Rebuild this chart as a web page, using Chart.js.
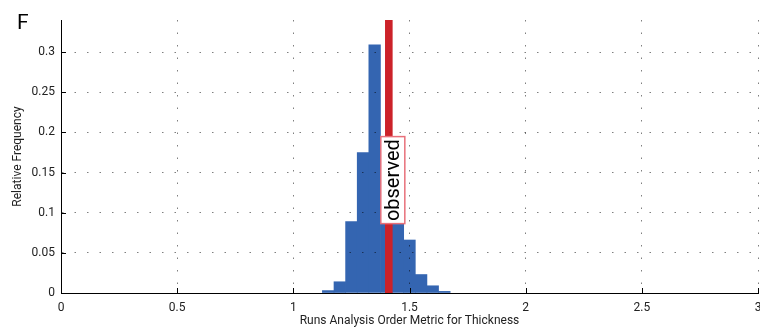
<!DOCTYPE html>
<html>
<head>
<meta charset="utf-8">
<script src="https://cdn.jsdelivr.net/npm/chart.js@4/dist/chart.umd.min.js"></script>
<style>
  html, body { margin: 0; padding: 0; background: #fff; }
  #wrap { width: 760px; height: 333px; position: relative; }
</style>
</head>
<body>
<div id="wrap"><canvas id="c" width="760" height="333"></canvas></div>
<script>
// Histogram bin centres (bin width 0.05) and relative frequencies
const binCenters = [1.15, 1.20, 1.25, 1.30, 1.35, 1.40, 1.45, 1.50, 1.55, 1.60, 1.65];
const relFreq    = [0.003, 0.014, 0.089, 0.175, 0.309, 0.185, 0.112, 0.066, 0.023, 0.009, 0.002];

// Observed value of the metric
const observedValue = 1.411;
const observedLabel = 'observed';
const observedLabelCenter = 0.1406;

// Axis ticks
const xTicks = [0, 0.5, 1, 1.5, 2, 2.5, 3];
const xTickLabels = ['0', '0.5', '1', '1.5', '2', '2.5', '3'];
const yTicks = [0, 0.05, 0.1, 0.15, 0.2, 0.25, 0.3];
const yTickLabels = ['0', '0.05', '0.1', '0.15', '0.2', '0.25', '0.3'];

const panelLetter = 'F';
const xTitle = 'Runs Analysis Order Metric for Thickness';
const yTitle = 'Relative Frequency';

const FONT = 'Roboto, Lato, sans-serif';

const overlay = {
  id: 'overlay',
  afterDraw(chart) {
    const ctx = chart.ctx;
    const xs = chart.scales.x, ys = chart.scales.y;
    const area = chart.chartArea;
    ctx.save();

    // inward tick marks
    ctx.strokeStyle = '#000';
    ctx.lineWidth = 1;
    ctx.beginPath();
    xTicks.forEach(v => {
      const px = Math.round(xs.getPixelForValue(v)) + 0.5;
      ctx.moveTo(px, area.bottom);
      ctx.lineTo(px, area.bottom - 5);
    });
    yTicks.forEach(v => {
      const py = Math.round(ys.getPixelForValue(v)) + 0.5;
      ctx.moveTo(area.left, py);
      ctx.lineTo(area.left + 5, py);
    });
    ctx.stroke();

    // observed value line
    const ox = xs.getPixelForValue(observedValue);
    ctx.fillStyle = '#cc2229';
    ctx.fillRect(ox - 3.8, area.top, 7.6, area.bottom - area.top);

    // observed label box
    const cy = ys.getPixelForValue(observedLabelCenter);
    const bw = 24, bh = 87;
    ctx.fillStyle = '#fff';
    ctx.fillRect(ox - 8, cy - bh / 2, bw, bh);
    ctx.strokeStyle = '#e8707a';
    ctx.lineWidth = 1.5;
    ctx.strokeRect(ox - 8, cy - bh / 2, bw, bh);
    ctx.translate(ox + 4, cy);
    ctx.rotate(-Math.PI / 2);
    ctx.fillStyle = '#000';
    ctx.font = '20px ' + FONT;
    ctx.textAlign = 'center';
    ctx.textBaseline = 'middle';
    ctx.fillText(observedLabel, 0, 1);
    ctx.restore();

    // panel letter
    ctx.save();
    ctx.fillStyle = '#000';
    ctx.font = '21px ' + FONT;
    ctx.textAlign = 'left';
    ctx.textBaseline = 'alphabetic';
    ctx.fillText(panelLetter, 17, 29);
    ctx.restore();
  }
};

new Chart(document.getElementById('c'), {
  type: 'bar',
  data: {
    datasets: [{
      data: binCenters.map((x, i) => ({ x: x, y: relFreq[i] })),
      backgroundColor: '#3465b1',
      borderWidth: 0,
      barPercentage: 1.0,
      categoryPercentage: 1.0
    }]
  },
  options: {
    responsive: false,
    animation: false,
    layout: { padding: { top: 20, right: 2, left: 0, bottom: 0 } },
    plugins: { legend: { display: false }, tooltip: { enabled: false } },
    scales: {
      x: {
        type: 'linear',
        offset: false,
        min: 0, max: 3,
        afterBuildTicks: s => { s.ticks = xTicks.map(v => ({ value: v })); },
        afterFit: s => { s.height = 40; s.paddingLeft = 0; s.paddingRight = 0; },
        ticks: {
          callback: (v, i) => xTickLabels[i],
          color: '#222',
          font: { family: FONT, size: 12 },
          padding: 8,
          maxRotation: 0
        },
        grid: { offset: false, color: 'rgba(0,0,0,0.5)', drawTicks: false, z: 1, lineWidth: 1 },
        border: { display: true, color: '#000', width: 1, dash: [1.5, 11], z: 2 },
        title: {
          display: true, text: xTitle, color: '#222',
          font: { family: FONT, size: 12 }, padding: { top: 0, bottom: 5 }
        }
      },
      y: {
        min: 0, max: 0.34,
        afterBuildTicks: s => { s.ticks = yTicks.map(v => ({ value: v })); },
        afterFit: s => { s.width = 61; s.paddingTop = 0; s.paddingBottom = 0; },
        ticks: {
          callback: (v, i) => yTickLabels[i],
          color: '#222',
          font: { family: FONT, size: 12 },
          padding: 6
        },
        grid: { color: 'rgba(0,0,0,0.5)', drawTicks: false, z: 1, lineWidth: 1 },
        border: { display: true, color: '#000', width: 1, dash: [1.5, 11], z: 2 },
        title: {
          display: true, text: yTitle, color: '#222',
          font: { family: FONT, size: 12 }, padding: { top: 11, bottom: 0 }
        }
      }
    }
  },
  plugins: [overlay]
});
</script>
</body>
</html>
